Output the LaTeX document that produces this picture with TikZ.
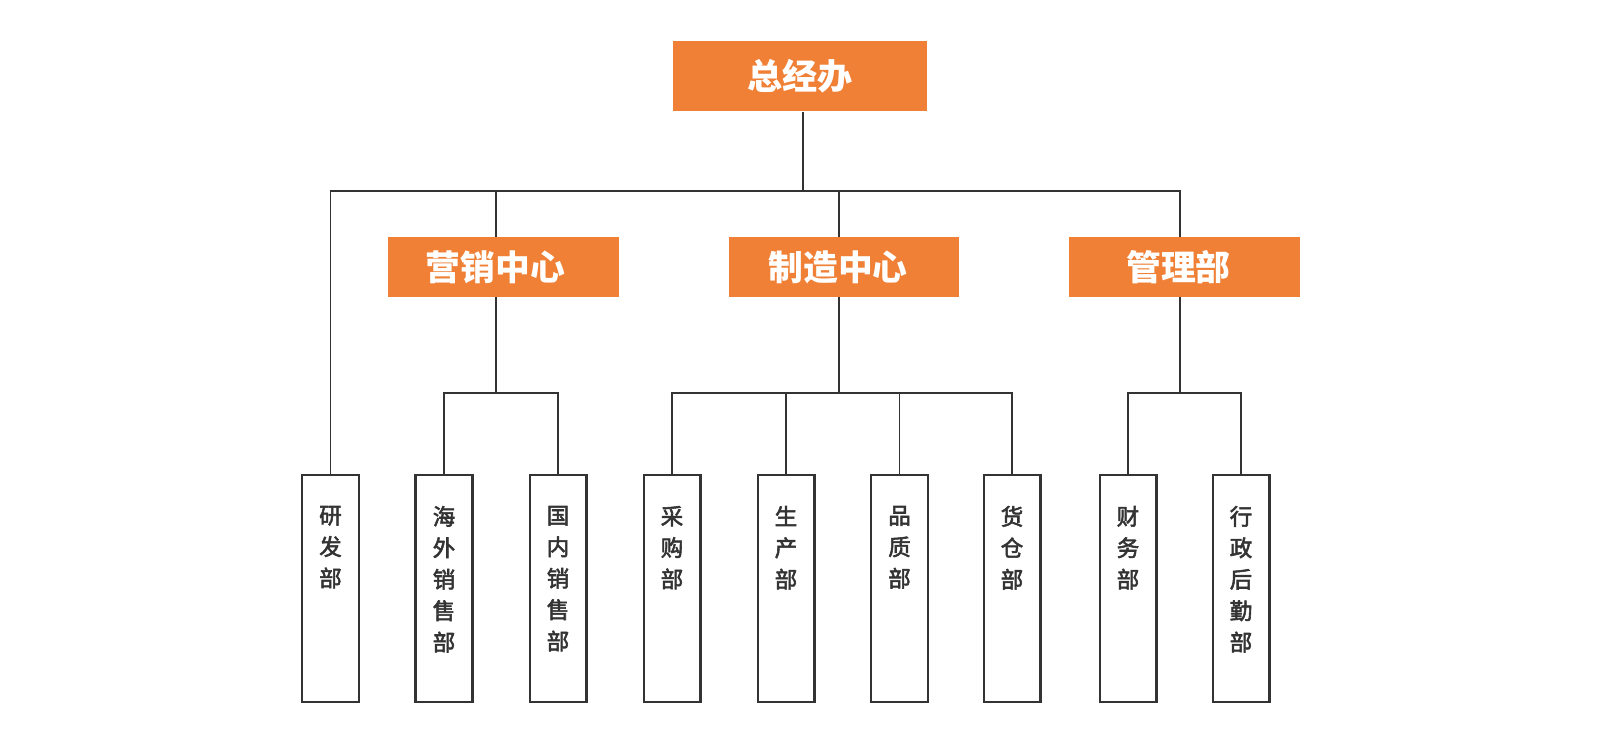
\documentclass[tikz,border=0pt]{standalone}
\usepackage{fontspec}
\setmainfont{Noto Sans CJK SC}
\newfontfamily\leaffont{Noto Sans CJK SC}[FakeBold=2.5]
\usepackage{tikz}
\usetikzlibrary{positioning}
\definecolor{boxorange}{HTML}{EF8035}
\definecolor{linegray}{HTML}{333333}
\newcommand{\thinline}{1pt}
\newcommand{\leafline}{1.15pt}
\newcommand{\vtext}[1]{\parbox[c][4.54cm][t]{1.14cm}{\centering\leaffont\fontsize{12.8pt}{17.9pt}\selectfont\vspace*{0.62cm}#1\par}}

\begin{document}
\begin{tikzpicture}[x=0.02cm, y=-0.02cm,
  head/.style={fill=boxorange, text=white, font=\bfseries\fontsize{20pt}{24pt}\selectfont, inner sep=0pt, minimum width=5.08cm, minimum height=1.42cm},
  midbox/.style={fill=boxorange, text=white, font=\bfseries\fontsize{19.8pt}{24pt}\selectfont, inner sep=0pt, minimum width=4.62cm, minimum height=1.2cm},
  leaf/.style={draw=linegray, line width=\leafline, text=linegray, inner sep=0pt, minimum width=1.14cm, minimum height=4.54cm},
  conn/.style={draw=linegray, line width=\thinline}]
\useasboundingbox (0,0) rectangle (1600,753);
%top
\node[head] (zjb) at (800,76) {总经办};
%centres (text sits a little left of the box middle)
\node[midbox] (yx) at (503.5,267) {营销中心\kern0.32cm};
\node[midbox] (zz) at (844,267) {制造中心\kern0.24cm};
\node[midbox] (gl) at (1184.5,267) {管理部\kern0.24cm};
%departments
\node[leaf] (yf) at (330.5,588.5) {\vtext{研\\发\\部}};
\node[leaf] (hw) at (444,588.5) {\vtext{海\\外\\销\\售\\部}};
\node[leaf] (gn) at (558,588.5) {\vtext{国\\内\\销\\售\\部}};
\node[leaf] (cg) at (672,588.5) {\vtext{采\\购\\部}};
\node[leaf] (sc) at (786,588.5) {\vtext{生\\产\\部}};
\node[leaf] (pz) at (899.5,588.5) {\vtext{品\\质\\部}};
\node[leaf] (hc) at (1012,588.5) {\vtext{货\\仓\\部}};
\node[leaf] (cw) at (1128,588.5) {\vtext{财\\务\\部}};
\node[leaf] (xz) at (1241,588.5) {\vtext{行\\政\\后\\勤\\部}};
%bus lines
\coordinate (bus1) at (803,191);
\coordinate (bus2) at (496,393);
\coordinate (bus3) at (839,393);
\coordinate (bus4) at (1180,393);
\draw[conn] (zjb.south -| bus1) -- (bus1);
\draw[conn] (yf.north) |- (bus1) -| (bus4 |- gl.north);
\draw[conn] (bus2 |- yx.north) -- (bus2 |- bus1);
\draw[conn] (bus3 |- zz.north) -- (bus3 |- bus1);
%marketing
\draw[conn] (yx.south -| bus2) -- (bus2);
\draw[conn] (hw.north) |- (bus2) -| (gn.north);
%manufacturing
\draw[conn] (zz.south -| bus3) -- (bus3);
\draw[conn] (cg.north) |- (bus3) -| (hc.north);
\draw[conn] (sc.north) -- (sc.north |- bus3);
\draw[conn] (pz.north) -- (pz.north |- bus3);
%management
\draw[conn] (gl.south -| bus4) -- (bus4);
\draw[conn] (cw.north) |- (bus4) -| (xz.north);
\end{tikzpicture}
\end{document}
